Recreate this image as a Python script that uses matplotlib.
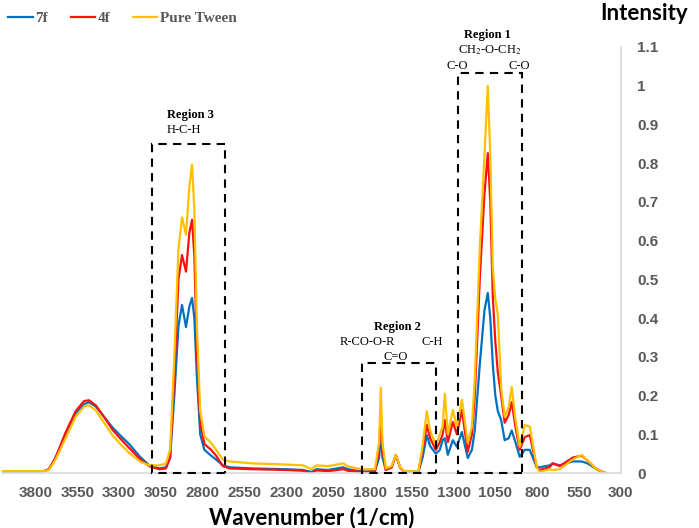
import matplotlib
matplotlib.use("Agg")
import matplotlib.pyplot as plt
from matplotlib.patches import Rectangle
import numpy as np

wavenumber = [4000, 3750, 3720, 3680, 3620, 3560, 3510, 3480, 3440, 3390, 3340, 3295, 3240, 3175,
              3120, 3060, 3020, 2995, 2970, 2945, 2924, 2900, 2880, 2864, 2850, 2835, 2815, 2790,
              2750, 2720, 2680, 2640, 2500, 2300, 2200, 2150, 2120, 2050, 1960, 1930, 1850, 1770,
              1745, 1735, 1725, 1705, 1670, 1645, 1620, 1595, 1510, 1485, 1460, 1440, 1406, 1382,
              1365, 1352, 1334, 1304, 1280, 1250, 1215, 1190, 1173, 1143, 1115, 1095, 1080, 1065,
              1050, 1035, 1015, 994, 970, 952, 930, 904, 874, 844, 802, 785, 725, 707, 665, 587,
              533, 498, 444, 408, 390]

i_7f = [0.005, 0.005, 0.01, 0.04, 0.10, 0.155, 0.178, 0.183, 0.172, 0.145, 0.118, 0.098, 0.075, 0.042,
        0.02, 0.012, 0.015, 0.04, 0.2, 0.38, 0.434, 0.377, 0.43, 0.452, 0.40, 0.25, 0.10, 0.06,
        0.045, 0.035, 0.02, 0.015, 0.012, 0.01, 0.008, 0.003, 0.01, 0.008, 0.015, 0.01, 0.004, 0.005,
        0.04, 0.106, 0.04, 0.008, 0.015, 0.045, 0.015, 0.004, 0.003, 0.04, 0.098, 0.07, 0.05, 0.06,
        0.085, 0.09, 0.047, 0.085, 0.068, 0.106, 0.039, 0.06, 0.11, 0.28, 0.42, 0.465, 0.40, 0.28,
        0.20, 0.16, 0.137, 0.085, 0.09, 0.11, 0.08, 0.042, 0.06, 0.06, 0.015, 0.015, 0.02, 0.025, 0.02, 0.03,
        0.03, 0.025, 0.01, 0.003, 0.0]

i_4f = [0.005, 0.005, 0.01, 0.04, 0.105, 0.16, 0.186, 0.188, 0.175, 0.145, 0.112, 0.09, 0.065, 0.036,
        0.018, 0.01, 0.012, 0.04, 0.25, 0.5, 0.563, 0.52, 0.62, 0.654, 0.56, 0.32, 0.13, 0.075,
        0.06, 0.045, 0.018, 0.012, 0.01, 0.008, 0.006, 0.0, 0.007, 0.005, 0.01, 0.006, 0.003, 0.004,
        0.06, 0.163, 0.06, 0.008, 0.015, 0.047, 0.015, 0.004, 0.003, 0.06, 0.124, 0.09, 0.06, 0.08,
        0.10, 0.137, 0.08, 0.132, 0.10, 0.163, 0.055, 0.10, 0.197, 0.5, 0.72, 0.826, 0.70, 0.455,
        0.34, 0.26, 0.20, 0.13, 0.15, 0.183, 0.12, 0.06, 0.093, 0.098, 0.015, 0.008, 0.015, 0.025, 0.018, 0.04,
        0.045, 0.032, 0.01, 0.003, 0.0]

i_tween = [0.005, 0.005, 0.008, 0.035, 0.09, 0.145, 0.172, 0.175, 0.162, 0.13, 0.098, 0.076, 0.052, 0.03,
           0.02, 0.02, 0.025, 0.06, 0.3, 0.58, 0.66, 0.615, 0.74, 0.796, 0.68, 0.38, 0.16, 0.095,
           0.078, 0.06, 0.035, 0.03, 0.025, 0.022, 0.02, 0.01, 0.02, 0.018, 0.025, 0.017, 0.01, 0.01,
           0.08, 0.22, 0.08, 0.012, 0.018, 0.047, 0.016, 0.005, 0.004, 0.07, 0.16, 0.11, 0.072, 0.10,
           0.12, 0.205, 0.10, 0.163, 0.12, 0.19, 0.078, 0.12, 0.24, 0.58, 0.82, 1.0, 0.82, 0.53,
           0.45, 0.41, 0.22, 0.145, 0.17, 0.222, 0.14, 0.068, 0.124, 0.12, 0.015, 0.003, 0.01, 0.008, 0.01, 0.035,
           0.047, 0.032, 0.01, 0.003, 0.0]

series_names = ["7f", "4f", "Pure Tween"]
series_colors = ["#0070C0", "#FF1010", "#FFC000"]

# dashed regions: (wavenumber start, wavenumber end, height)
regions = [(3103, 2667, 0.85), (1848, 1406, 0.284), (1275, 892, 1.034)]

GRAY = "#595959"

fig = plt.figure(figsize=(6.99, 5.28), dpi=100)
ax = fig.add_axes([0.003, 0.104, 0.885, 0.807])

for y, name, c in zip([i_7f, i_4f, i_tween], series_names, series_colors):
    ax.plot(wavenumber, y, color=c, lw=1.6, label=name)

for w0, w1, h in regions:
    ax.add_patch(Rectangle((w1, 0), w0 - w1, h, fill=False, ls=(0, (4, 3)),
                           lw=1.5, ec="black", clip_on=False, zorder=5))

ax.set_xlim(4000, 300)
ax.set_ylim(0, 1.1)
ax.set_xticks(np.arange(3800, 299, -250))
ax.set_yticks([0, 0.1, 0.2, 0.3, 0.4, 0.5, 0.6, 0.7, 0.8, 0.9, 1, 1.1])
ax.set_yticklabels(["0", "0.1", "0.2", "0.3", "0.4", "0.5", "0.6", "0.7", "0.8", "0.9", "1", "1.1"])
ax.yaxis.tick_right()
ax.tick_params(length=0, labelcolor=GRAY, labelsize=11)
ax.tick_params(axis="y", pad=12)
ax.tick_params(axis="x", pad=9)
for lab in ax.get_xticklabels() + ax.get_yticklabels():
    lab.set_fontfamily("Liberation Sans")
    lab.set_fontweight("bold")

for s in ["top", "left"]:
    ax.spines[s].set_visible(False)
for s in ["bottom", "right"]:
    ax.spines[s].set_color("#D9D9D9")
    ax.spines[s].set_linewidth(1.2)

ax.set_xlabel("Wavenumber (1/cm)", fontsize=16, fontweight="bold", family="Lato", labelpad=5)
fig.text(0.921, 0.975, "Intensity", fontsize=16, fontweight="bold", family="Lato",
         ha="center", va="center")

leg = ax.legend(loc="upper left", bbox_to_anchor=(-0.012, 1.115), ncol=3, frameon=False,
                handlelength=1.6, handletextpad=0.15, columnspacing=1.5,
                prop={"family": "Liberation Serif", "weight": "bold", "size": 11})
for t in leg.get_texts():
    t.set_color(GRAY)

serif = "Liberation Serif"
ax.text(2876, 0.925, "Region 3", ha="center", va="center", family=serif, fontweight="bold", fontsize=9)
ax.text(2915, 0.885, "H-C-H", ha="center", va="center", family=serif, fontsize=9)
ax.text(1633, 0.377, "Region 2", ha="center", va="center", family=serif, fontweight="bold", fontsize=9)
ax.text(1815, 0.339, "R-CO-O-R", ha="center", va="center", family=serif, fontsize=9)
ax.text(1430, 0.339, "C-H", ha="center", va="center", family=serif, fontsize=9)
ax.text(1645, 0.30, "C=O", ha="center", va="center", family=serif, fontsize=9)
ax.text(1095, 1.132, "Region 1", ha="center", va="center", family=serif, fontweight="bold",
        fontsize=9, clip_on=False)
ax.text(1083, 1.093, r"CH$_2$-O-CH$_2$", ha="center", va="center", family=serif, fontsize=9,
        math_fontfamily="stix")
ax.text(1280, 1.052, "C-O", ha="center", va="center", family=serif, fontsize=9)
ax.text(905, 1.052, "C-O", ha="center", va="center", family=serif, fontsize=9)

fig.savefig("out.png", dpi=100)
